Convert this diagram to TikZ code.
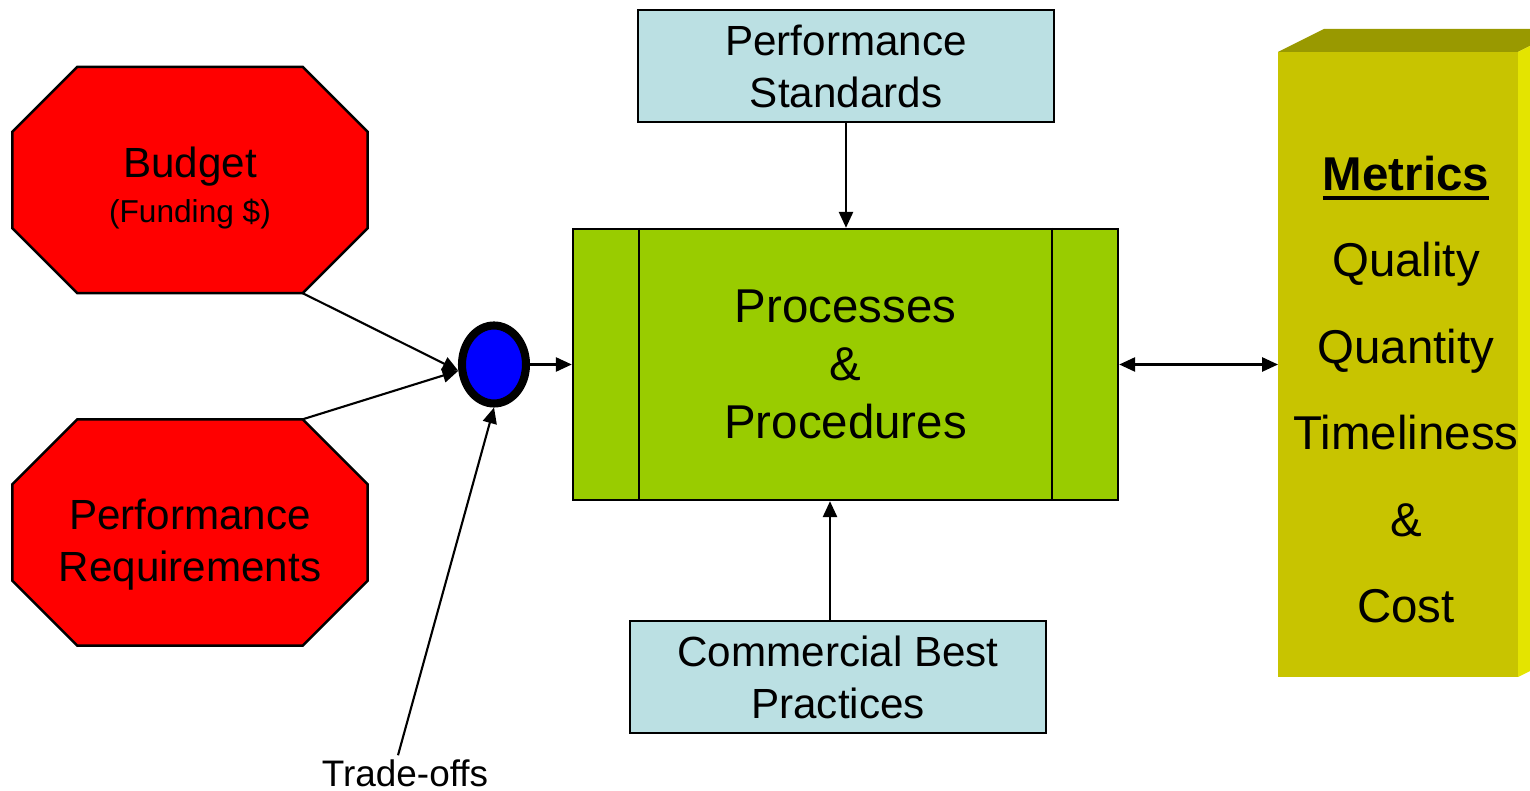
\documentclass[tikz,border=0pt]{standalone}
\usepackage{fontspec}
\setmainfont{Liberation Sans}
\usetikzlibrary{arrows.meta,shapes.geometric,calc}
\pgfdeclarelayer{background}
\pgfsetlayers{background,main}

\definecolor{octred}{RGB}{255,0,0}
\definecolor{procgreen}{RGB}{153,204,0}
\definecolor{stdblue}{RGB}{187,224,227}
\definecolor{metfront}{RGB}{200,196,0}
\definecolor{mettop}{RGB}{153,153,0}
\definecolor{metside}{RGB}{228,228,0}

% chamfered outline behind a goal node
\newcommand{\octbox}[1]{%
  \begin{pgfonlayer}{background}
    \filldraw[fill=octred, line width=0.7pt]
      ($(#1.north west)+(0.65,0)$) -- ($(#1.north east)+(-0.65,0)$) --
      ($(#1.north east)+(0,-0.65)$) -- ($(#1.south east)+(0,0.65)$) --
      ($(#1.south east)+(-0.65,0)$) -- ($(#1.south west)+(0.65,0)$) --
      ($(#1.south west)+(0,0.65)$) -- ($(#1.north west)+(0,-0.65)$) -- cycle;
  \end{pgfonlayer}}
\newcommand{\metul}[1]{\setbox0\hbox{#1}\rlap{\rule[-2.8pt]{\wd0}{1.3pt}}\box0}

\tikzset{
  goal/.style={minimum width=3.54cm, minimum height=2.25cm},
  goaltext/.style={align=center, font=\fontsize{12}{14.8}\selectfont},
  infobox/.style={draw, fill=stdblue, line width=0.7pt, minimum width=4.16cm,
    minimum height=1.12cm, align=center, font=\fontsize{12}{14.8}\selectfont},
  link/.style={-{Triangle[length=4.5pt,width=4pt]}, line width=0.6pt},
}

\begin{document}
\begin{tikzpicture}
  \useasboundingbox (0,0) rectangle (15.30,7.91);

  % Budget and requirements
  \node[goal, label={[goaltext, yshift=-0.08cm]center:{Budget\\[-2.2pt]{\fontsize{9}{11}\selectfont (Funding \$)}}}]
    (bud) at (1.90,6.11) {};
  \octbox{bud}
  \node[goal, label={[goaltext, yshift=-0.12cm]center:{Performance\\Requirements}}]
    (req) at (1.90,2.585) {};
  \octbox{req}

  % Trade-off point
  \node[ellipse, draw, fill=blue, line width=2.3pt, minimum width=0.64cm,
    minimum height=0.78cm, inner sep=0pt] (hub) at (4.94,4.265) {};
  \node[font=\fontsize{10.5}{12}\selectfont, inner sep=1pt] (trade) at (4.05,0.18) {Trade-offs};

  \draw[link] ($(bud.south east)+(-0.65,0)$) -- (hub.190);
  \draw[link] ($(req.north east)+(-0.65,0)$) -- (hub.190);
  \draw[link] ([xshift=-0.07cm]trade.north) -- (hub.south);

  % Processes
  \node[draw, fill=procgreen, line width=0.7pt, minimum width=5.45cm, minimum height=2.71cm,
    align=center, font=\fontsize{13.5}{16.5}\selectfont] (proc) at (8.455,4.265)
    {Processes\\\&\\Procedures};
  \draw[line width=0.7pt] ([xshift=0.67cm]proc.north west) -- ([xshift=0.67cm]proc.south west);
  \draw[line width=0.7pt] ([xshift=-0.67cm]proc.north east) -- ([xshift=-0.67cm]proc.south east);
  \draw[link] (hub.east) -- (proc.west);

  % Standards and practices
  \node[infobox] (stds) at (8.46,7.25) {Performance\\Standards};
  \node[infobox] (comm) at (8.38,1.14) {Commercial Best\\Practices};
  \draw[link] (stds.south) -- (stds.south |- proc.north);
  \draw[link] ([xshift=-0.08cm]comm.north) -- ([xshift=-0.08cm]comm.north |- proc.south);

  % Metrics block
  \node[fill=metfront, minimum width=2.40cm, minimum height=6.25cm, inner sep=0pt,
    outer sep=0pt] (met) at (13.98,4.265) {};
  \fill[mettop] (met.north west) -- ++(0.46,0.23) -- ++(2.40,0) -- (met.north east) -- cycle;
  \fill[metside] (met.north east) -- ++(0.46,0.23) -- ++(0,-6.25) -- (met.south east) -- cycle;
  \node[align=center, font=\fontsize{13.5}{24.6}\selectfont] (mtxt)
    at ([xshift=0.08cm,yshift=-0.25cm]met.center)
    {\metul{\textbf{Metrics}}\\Quality\\Quantity\\Timeliness\\\&\\Cost};
  \draw[{Triangle[length=4.5pt,width=4pt]}-{Triangle[length=4.5pt,width=4pt]}, line width=0.6pt]
    (proc.east) -- (met.west);
\end{tikzpicture}
\end{document}
